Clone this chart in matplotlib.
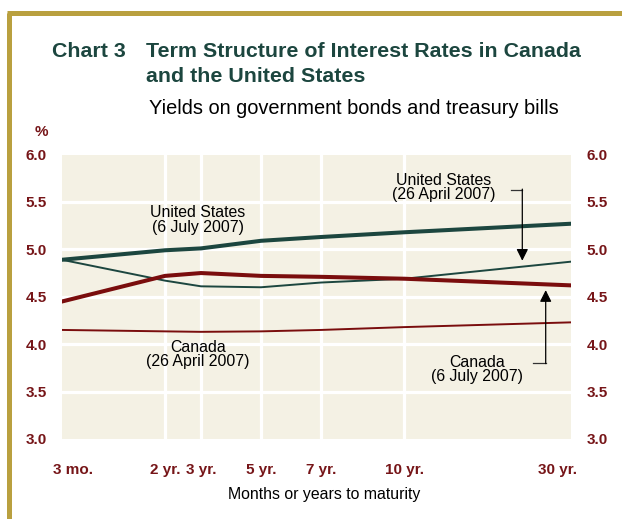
import matplotlib
matplotlib.use('Agg')
import matplotlib.pyplot as plt
import matplotlib.transforms as mtransforms

plt.rcParams['font.family'] = ['Liberation Sans', 'DejaVu Sans']

# data
maturities = ['3 mo.', '2 yr.', '3 yr.', '5 yr.', '7 yr.', '10 yr.', '30 yr.']
us_july = [4.89, 4.99, 5.01, 5.09, 5.13, 5.18, 5.27]
us_april = [4.89, 4.67, 4.61, 4.60, 4.65, 4.69, 4.87]
can_july = [4.45, 4.72, 4.75, 4.72, 4.71, 4.69, 4.62]
can_april = [4.15, 4.135, 4.13, 4.135, 4.15, 4.18, 4.23]
y_ticks = [3.0, 3.5, 4.0, 4.5, 5.0, 5.5, 6.0]

# uneven spacing of maturities along the axis
x_pos = [0, 103, 139, 199, 259, 342.5, 509]

W, H = 622, 519
GREEN = '#1c463f'
RED = '#7a0d0d'
LABEL_RED = '#761518'
GOLD = '#b9a03f'
CREAM = '#f4f1e4'

fig = plt.figure(figsize=(W / 100, H / 100), dpi=100)
fig.patch.set_facecolor('white')

def px(x, y):
    return x / W, 1 - y / H

# gold frame (left and top)
fig.add_artist(plt.Line2D([8.5 / W, 8.5 / W], [0, 1 - 12.5 / H], color=GOLD, lw=3.6,
                          transform=fig.transFigure, solid_capstyle='butt'))
fig.add_artist(plt.Line2D([6.7 / W, 1], [1 - 12.5 / H, 1 - 12.5 / H], color=GOLD, lw=3.6,
                          transform=fig.transFigure, solid_capstyle='butt'))

# titles
fig.text(*px(51.5, 51.5), 'Chart 3', color=GREEN, fontsize=15.4, fontweight='bold', va='center')
fig.text(*px(146.5, 51.5), 'Term Structure of Interest Rates in Canada', color=GREEN,
         fontsize=15.4, fontweight='bold', va='center')
fig.text(*px(146.5, 76), 'and the United States', color=GREEN, fontsize=15.4,
         fontweight='bold', va='center')
fig.text(*px(149, 108), 'Yields on government bonds and treasury bills', color='black',
         fontsize=14.4, va='center')
fig.text(*px(41, 132), '%', color=LABEL_RED, fontsize=11, fontweight='bold',
         va='center', ha='center')
fig.text(*px(324, 495), 'Months or years to maturity', color='black', fontsize=11.4,
         va='center', ha='center')

left, right, top, bottom = 62, 571, 154.5, 439
ax = fig.add_axes([left / W, 1 - bottom / H, (right - left) / W, (bottom - top) / H])
ax.set_facecolor(CREAM)
ax.set_xlim(x_pos[0], x_pos[-1])
ax.set_ylim(3.0, 6.0)
for s in ax.spines.values():
    s.set_visible(False)

# white grid
for y in y_ticks[1:-1]:
    ax.axhline(y, color='white', lw=2.3, zorder=1)
for x in x_pos[1:-1]:
    ax.axvline(x, color='white', lw=2.3, zorder=1)

ax.plot(x_pos, us_july, color=GREEN, lw=2.9, zorder=3)
ax.plot(x_pos, us_april, color=GREEN, lw=1.4, zorder=3)
ax.plot(x_pos, can_july, color=RED, lw=2.9, zorder=3)
ax.plot(x_pos, can_april, color=RED, lw=1.4, zorder=3)

# ticks
ax.set_yticks(y_ticks)
ax.set_yticklabels(['%.1f' % v for v in y_ticks])
ax.tick_params(axis='y', length=0, pad=11, labelcolor=LABEL_RED, labelsize=11,
               left=True, right=True, labelleft=True, labelright=True)
ax.set_xticks(x_pos)
ax.set_xticklabels(maturities)
ax.tick_params(axis='x', length=0, pad=17, labelcolor=LABEL_RED, labelsize=11)
for lab in ax.get_xticklabels() + ax.get_yticklabels():
    lab.set_fontweight('bold')
xl = ax.get_xticklabels()
xl[0].set_transform(xl[0].get_transform() + mtransforms.ScaledTranslation(11 / 100, 0, fig.dpi_scale_trans))
xl[-1].set_transform(xl[-1].get_transform() + mtransforms.ScaledTranslation(-13 / 100, 0, fig.dpi_scale_trans))

# annotations
txt = dict(fontsize=11.4, ha='center', va='center', linespacing=0.95, color='black', zorder=4)
ax.text(136, 5.31, 'United States\n(6 July 2007)', **txt)
ax.text(382, 5.65, 'United States\n(26 April 2007)', **txt)
ax.text(136, 3.89, 'Canada\n(26 April 2007)', **txt)
ax.text(415, 3.73, 'Canada\n(6 July 2007)', **txt)

# arrows with bracket tails
ax.plot([448.7, 460.3], [5.63, 5.63], color='#333333', lw=0.9, zorder=4)
ax.annotate('', xy=(460.3, 4.88), xytext=(460.3, 5.635),
            arrowprops=dict(arrowstyle='-|>,head_length=0.7,head_width=0.35',
                            color='black', lw=0.9, shrinkA=0, shrinkB=0), zorder=4)
ax.plot([471, 483.7], [3.80, 3.80], color='#333333', lw=0.9, zorder=4)
ax.annotate('', xy=(483.7, 4.57), xytext=(483.7, 3.795),
            arrowprops=dict(arrowstyle='-|>,head_length=0.7,head_width=0.35',
                            color='black', lw=0.9, shrinkA=0, shrinkB=0), zorder=4)

fig.savefig('out.png', dpi=100, facecolor=fig.get_facecolor())
